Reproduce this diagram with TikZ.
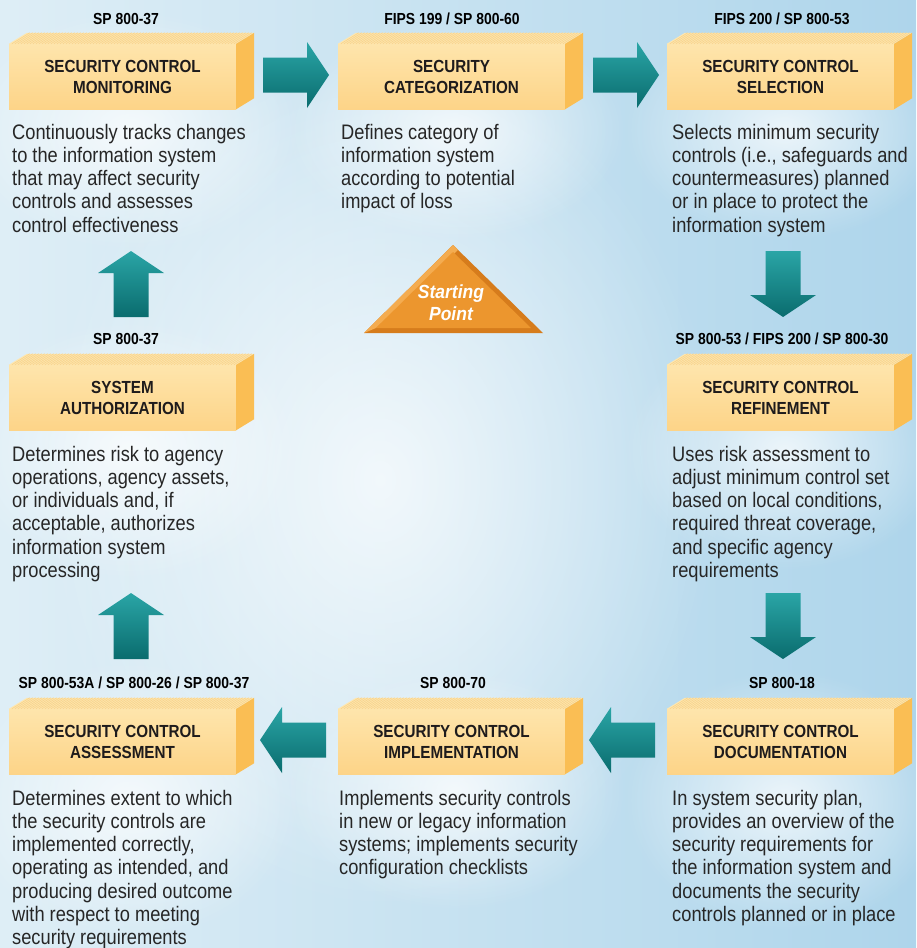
\documentclass[tikz,border=0pt]{standalone}
\usepackage{fontspec}
\setmainfont{Liberation Sans}
\newfontfamily\cond{Liberation Sans}[FakeStretch=0.87]
\newfontfamily\condb{Liberation Sans}[FakeStretch=0.92]
\usetikzlibrary{fadings,calc}

\definecolor{bgL}{RGB}{222,238,246}
\definecolor{bgR}{RGB}{174,213,235}
\definecolor{frontT}{RGB}{254,229,172}
\definecolor{frontB}{RGB}{253,212,136}
\definecolor{topF}{RGB}{253,231,178}
\definecolor{stripe}{RGB}{249,212,140}
\definecolor{sideF}{RGB}{250,190,84}
\definecolor{tealL}{RGB}{42,165,166}
\definecolor{tealD}{RGB}{10,108,110}
\definecolor{txt}{RGB}{38,38,38}
\definecolor{hdr}{RGB}{30,27,28}
\definecolor{orangeO}{RGB}{214,124,28}
\definecolor{orangeL}{RGB}{244,172,80}
\definecolor{orangeI}{RGB}{236,150,46}

\tikzfading[name=glowfade, inner color=transparent!0, outer color=transparent!100]

\tikzset{
  frontface/.style={minimum width=227pt, minimum height=65pt, inner sep=0pt,
    top color=frontT, bottom color=frontB, text=hdr, align=center,
    font=\cond\bfseries\fontsize{17.5}{21}\selectfont},
  reflabel/.style={anchor=base, inner sep=0pt, text=black,
    font=\cond\bfseries\fontsize{16}{19}\selectfont},
  desc/.style={anchor=north west, inner sep=0pt, align=left, text=txt,
    font=\cond\fontsize{21}{23.3}\selectfont},
  topface/.style={fill=topF},
  sideface/.style={fill=sideF},
  stripeline/.style={draw=stripe, line width=0.7pt},
  glow/.style={fill=white, path fading=glowfade, fill opacity=0.75},
  starttext/.style={inner sep=0pt, align=center, text=white,
    font=\condb\bfseries\itshape\fontsize{19}{22}\selectfont},
  blockarrow/.pic={
    \shade[top color=tealL, bottom color=tealD]
      (0,0) -- (-22,-33) -- (-22,-17.5) -- (-66,-17.5) -- (-66,17.5)
      -- (-22,17.5) -- (-22,33) -- cycle;
  }
}

\newcommand\boxfaces[1]{%
  \fill[topface] (#1.north west) -- ++(18,-11) -- ($(#1.north east)+(18,-11)$)
    -- (#1.north east) -- cycle;
  \foreach \k in {1,...,75}{
    \draw[stripeline] ($(#1.north west)+(3*\k,0)$) -- ++(18,-11);
  }
  \fill[sideface] (#1.north east) -- ++(18,-11) -- ($(#1.south east)+(18,-11)$)
    -- (#1.south east) -- cycle;
}

\begin{document}
\begin{tikzpicture}[x=1pt,y=-1pt]
\useasboundingbox (0,0) rectangle (916,948);
% background
\shade[left color=bgL, right color=bgR] (0,0) rectangle (916,948);
\fill[glow] (380,480) ellipse (340 and 430);
\fill[glow] (130,130) ellipse (170 and 120);
\fill[glow] (455,130) ellipse (170 and 110);
\fill[glow] (785,130) ellipse (160 and 110);
\fill[glow] (130,450) ellipse (170 and 130);
\fill[glow] (785,450) ellipse (160 and 120);
\fill[glow] (130,800) ellipse (170 and 140);
\fill[glow] (455,790) ellipse (170 and 120);
\fill[glow] (785,800) ellipse (160 and 130);

% boxes
\node[frontface] (mon) at (122.5,76.5) {SECURITY CONTROL\\MONITORING};
\node[frontface] (cat) at (451.5,76.5) {SECURITY\\CATEGORIZATION};
\node[frontface] (sel) at (780.5,76.5) {SECURITY CONTROL\\SELECTION};
\node[frontface] (aut) at (122.5,397.5) {SYSTEM\\AUTHORIZATION};
\node[frontface] (ref) at (780.5,397.5) {SECURITY CONTROL\\REFINEMENT};
\node[frontface] (ass) at (122.5,741.5) {SECURITY CONTROL\\ASSESSMENT};
\node[frontface] (imp) at (451.5,741.5) {SECURITY CONTROL\\IMPLEMENTATION};
\node[frontface] (doc) at (780.5,741.5) {SECURITY CONTROL\\DOCUMENTATION};
\boxfaces{mon}\boxfaces{cat}\boxfaces{sel}\boxfaces{aut}
\boxfaces{ref}\boxfaces{ass}\boxfaces{imp}\boxfaces{doc}

% reference labels
\node[reflabel] (lmon) at (126,24) {SP 800-37};
\node[reflabel] (lcat) at (452,24) {FIPS 199 / SP 800-60};
\node[reflabel] (lsel) at (782,24) {FIPS 200 / SP 800-53};
\node[reflabel] (laut) at (126,344) {SP 800-37};
\node[reflabel] (lref) at (782,344) {SP 800-53 / FIPS 200 / SP 800-30};
\node[reflabel] (lass) at (134,688) {SP 800-53A / SP 800-26 / SP 800-37};
\node[reflabel] (limp) at (453,688) {SP 800-70};
\node[reflabel] (ldoc) at (782,688) {SP 800-18};

% descriptions
\node[desc] (dmon) at (12,122.5) {\strut Continuously tracks changes\\to the information system\\that may affect security\\controls and assesses\\control effectiveness};
\node[desc] (dcat) at (341,122.5) {\strut Defines category of\\information system\\according to potential\\impact of loss};
\node[desc] (dsel) at (672,122.5) {\strut Selects minimum security\\controls (i.e., safeguards and\\countermeasures) planned\\or in place to protect the\\information system};
\node[desc] (daut) at (12,444.5) {\strut Determines risk to agency\\operations, agency assets,\\or individuals and, if\\acceptable, authorizes\\information system\\processing};
\node[desc] (dref) at (672,444.5) {\strut Uses risk assessment to\\adjust minimum control set\\based on local conditions,\\required threat coverage,\\and specific agency\\requirements};
\node[desc] (dass) at (12,788.5) {\strut Determines extent to which\\the security controls are\\implemented correctly,\\operating as intended, and\\producing desired outcome\\with respect to meeting\\security requirements};
\node[desc] (dimp) at (339,788.5) {\strut Implements security controls\\in new or legacy information\\systems; implements security\\configuration checklists};
\node[desc] (ddoc) at (672,788.5) {\strut In system security plan,\\provides an overview of the\\security requirements for\\the information system and\\documents the security\\controls planned or in place};

% block arrows
\pic at (329,75) {blockarrow};
\pic at (659,75) {blockarrow};
\pic[rotate=-90] at (783,317) {blockarrow};
\pic[rotate=-90] at (783,659) {blockarrow};
\pic[rotate=180] at (589,740) {blockarrow};
\pic[rotate=180] at (260,740) {blockarrow};
\pic[rotate=90] at (131,593) {blockarrow};
\pic[rotate=90] at (131,251) {blockarrow};

% starting point
\fill[orangeO] (364,333) -- (453,245) -- (543,333) -- cycle;
\fill[orangeL] (364,333) -- (453,245) -- (458,250) -- (376,328) -- cycle;
\fill[orangeI] (376,328) -- (453,252) -- (531,328) -- cycle;
\node[starttext] (start) at (451,303) {Starting\\Point};
\end{tikzpicture}
\end{document}
